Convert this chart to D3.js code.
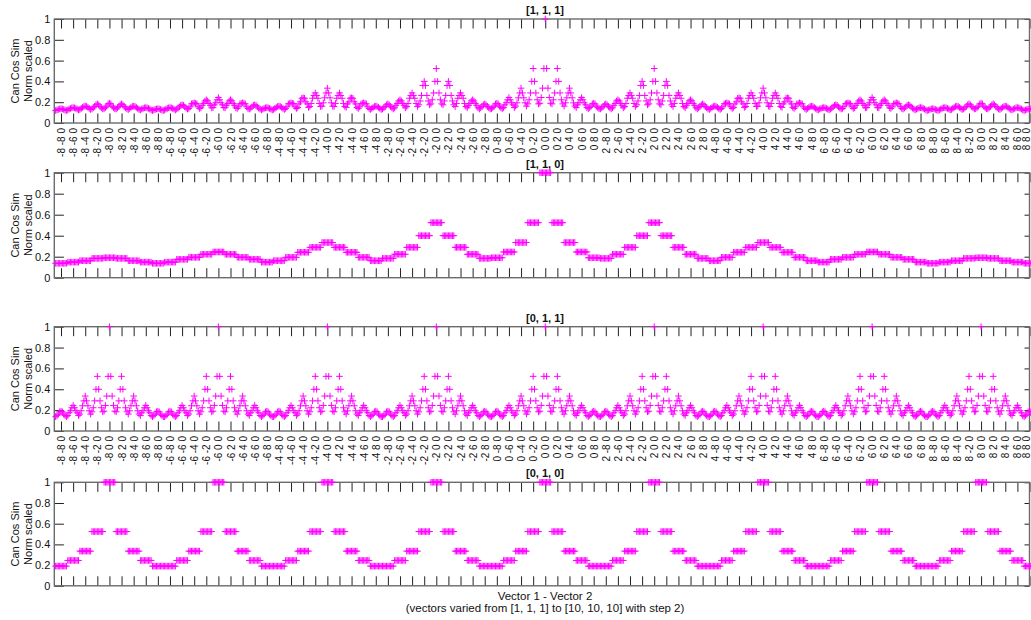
<!DOCTYPE html>
<html><head><meta charset="utf-8">
<script src="https://cdn.jsdelivr.net/npm/d3@7"></script>
<style>body{margin:0;background:#fff;overflow:hidden}text{font-family:"Liberation Sans",Arial,Helvetica,sans-serif}</style>
</head><body><svg id="c" width="1031" height="620"></svg>
<script>
// ---------------- data ----------------
const panelTitles = ["[1, 1, 1]", "[1, 1, 0]", "[0, 1, 1]", "[0, 1, 0]"];
const panelMasks  = [[1,1,1],[1,1,0],[0,1,1],[0,1,0]];
const diffValues  = [-8,-6,-4,-2,0,2,4,6,8];          // component differences
const yTickValues = [0,0.2,0.4,0.6,0.8,1];
const yLabelLines = ["Can Cos Sim","Norm scaled"];
const xLabelLines = ["Vector 1 - Vector 2","(vectors varied from [1, 1, 1] to [10, 10, 10] with step 2)"];
const panelsWithTickLabels = [true,false,true,false];

// similarity, indexed by |difference|/2 of the active components
const sim1D = [1.000,0.524,0.335,0.245,0.190];
const sim2D = [
  [1.000,0.524,0.335,0.245,0.190],
  [0.524,0.400,0.289,0.223,0.184],
  [0.335,0.289,0.242,0.194,0.162],
  [0.245,0.223,0.194,0.175,0.148],
  [0.190,0.184,0.162,0.148,0.137]];
const sim3D = [
 [[1.000,0.524,0.335,0.245,0.190],
  [0.524,0.400,0.289,0.223,0.184],
  [0.335,0.289,0.242,0.194,0.162],
  [0.245,0.223,0.194,0.175,0.148],
  [0.190,0.184,0.162,0.148,0.137]],
 [[0.524,0.400,0.289,0.223,0.184],
  [0.400,0.360,0.265,0.212,0.175],
  [0.289,0.265,0.238,0.188,0.159],
  [0.223,0.212,0.188,0.170,0.146],
  [0.184,0.175,0.159,0.146,0.135]],
 [[0.335,0.289,0.242,0.194,0.162],
  [0.289,0.265,0.238,0.188,0.159],
  [0.242,0.238,0.203,0.184,0.150],
  [0.194,0.188,0.184,0.155,0.140],
  [0.162,0.159,0.150,0.140,0.130]],
 [[0.245,0.223,0.194,0.175,0.148],
  [0.223,0.212,0.188,0.170,0.146],
  [0.194,0.188,0.184,0.155,0.140],
  [0.175,0.170,0.155,0.143,0.134],
  [0.148,0.146,0.140,0.134,0.125]],
 [[0.190,0.184,0.162,0.148,0.137],
  [0.184,0.175,0.159,0.146,0.135],
  [0.162,0.159,0.150,0.140,0.130],
  [0.148,0.146,0.140,0.134,0.125],
  [0.137,0.135,0.130,0.125,0.120]]];

// ---------------- build ----------------
const combos = d3.cross(diffValues, diffValues, diffValues); // d1 slowest, d3 fastest
const idx = v => Math.abs(v) / 2;
function simFor(mask, c) {
  const act = c.filter((v, i) => mask[i]).map(idx);
  if (act.length === 3) return sim3D[act[0]][act[1]][act[2]];
  if (act.length === 2) return sim2D[act[0]][act[1]];
  return sim1D[act[0]];
}
const tickIdx = combos.map((c, i) => c[2] === 0 ? i : -1).filter(i => i >= 0);
const tickLabel = i => `${combos[i][0]} ${combos[i][1]} 0`;

const svg = d3.select("#c");
const left = 54.3, right = 1029.5;
const tops = [19, 172.7, 326.7, 482.3], bottoms = [123, 277.7, 431, 585.8];
const x = d3.scaleLinear().domain([-1, 724]).range([left, right]);
const border = "#6b6b6b", tickCol = "#222";
const pink = "#ff00ff";
const plus = 3.3;
const lastTick = tickIdx[tickIdx.length - 1];

panelTitles.forEach((title, p) => {
  const y = d3.scaleLinear().domain([0, 1]).range([bottoms[p], tops[p]]);
  const g = svg.append("g");
  const data = combos.map((c, i) => ({i, v: simFor(panelMasks[p], c)}));

  // bottom axis
  const bx = g.append("g").attr("transform", `translate(0,${bottoms[p]})`)
    .call(d3.axisBottom(x).tickValues(tickIdx).tickSizeInner(-9.5).tickSizeOuter(0)
      .tickFormat(panelsWithTickLabels[p] ? tickLabel : ""));
  bx.select(".domain").remove();
  bx.selectAll(".tick line").attr("stroke", tickCol);
  bx.selectAll("text").attr("transform", "rotate(-90)").attr("x", -5).attr("y", 0)
    .attr("dy", "0.35em").style("text-anchor", "end").attr("fill", "#111").style("font-size", "10px");
  // keep the last label inside the picture
  bx.selectAll(".tick").filter(d => d === lastTick).select("text").attr("y", -4);
  // top axis
  const tx = g.append("g").attr("transform", `translate(0,${tops[p]})`)
    .call(d3.axisTop(x).tickValues(tickIdx).tickSizeInner(-9.5).tickSizeOuter(0).tickFormat(""));
  tx.select(".domain").remove();
  tx.selectAll(".tick line").attr("stroke", tickCol);
  // left axis
  const ly = g.append("g").attr("transform", `translate(${left},0)`)
    .call(d3.axisLeft(y).tickValues(yTickValues).tickSizeInner(-9.6).tickSizeOuter(0).tickPadding(4)
      .tickFormat(d3.format("~g")));
  ly.select(".domain").remove();
  ly.selectAll(".tick line").attr("stroke", tickCol);
  ly.selectAll("text").attr("fill", "#111").style("font-size", "11px");
  // right axis
  const ry = g.append("g").attr("transform", `translate(${right},0)`)
    .call(d3.axisRight(y).tickValues(yTickValues).tickSizeInner(-5).tickSizeOuter(0).tickFormat(""));
  ry.select(".domain").remove();
  ry.selectAll(".tick line").attr("stroke", tickCol);

  // border
  g.append("rect").attr("x", left).attr("y", tops[p]).attr("width", right - left)
    .attr("height", bottoms[p] - tops[p]).attr("fill", "none").attr("stroke", border).attr("stroke-width", 1.4);

  // points
  g.append("g").selectAll("path").data(data).join("path")
    .attr("d", d => {
      const cx = x(d.i), cy = y(d.v);
      return `M${cx - plus},${cy}H${cx + plus}M${cx},${cy - plus}V${cy + plus}`;
    })
    .attr("stroke", pink).attr("stroke-width", 1).attr("fill", "none");

  // title
  g.append("text").attr("x", 545).attr("y", tops[p] - 5).attr("text-anchor", "middle")
    .style("font-size", "11px").style("font-weight", "bold").attr("fill", "#111").text(title);

  // y label
  const midY = (tops[p] + bottoms[p]) / 2;
  yLabelLines.forEach((t, k) => {
    g.append("text").attr("transform", `translate(${15.5 + k * 12.5},${midY}) rotate(-90)`)
      .attr("text-anchor", "middle").attr("dy", "0.35em").style("font-size", "11px")
      .attr("fill", "#111").text(t);
  });
});

// x label
xLabelLines.forEach((t, k) => {
  svg.append("text").attr("x", 545).attr("y", 600 + k * 12).attr("text-anchor", "middle")
    .style("font-size", "11.5px").attr("fill", "#111").text(t);
});
</script></body></html>
